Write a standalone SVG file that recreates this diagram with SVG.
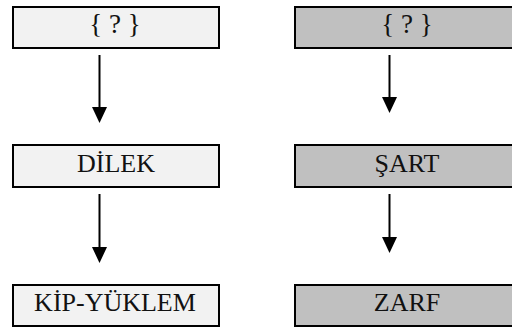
<svg xmlns="http://www.w3.org/2000/svg" width="512" height="329" viewBox="0 0 512 329">
  <defs>
    <marker id="ah" viewBox="0 0 16 15" refX="0" refY="7.5" markerWidth="16" markerHeight="15" markerUnits="userSpaceOnUse" orient="auto">
      <path d="M0,0 L16,7.5 L0,15 Z" fill="#000"/>
    </marker>
  </defs>
  <style>
    .box { stroke: #000; stroke-width: 2; }
    .light { fill: #f2f2f2; }
    .dark { fill: #c0c0c0; }
    text { font-family: "Liberation Serif", "Times New Roman", serif; font-size: 26px; fill: #111; text-anchor: middle; }
    .q { font-size: 27px; }
    .conn line { stroke: #000; stroke-width: 2; marker-end: url(#ah); }
  </style>
  <rect width="512" height="329" fill="#fff"/>
  <g id="node-q-left">
    <rect class="box light" x="13" y="7" width="206" height="41"/>
    <text class="q" x="115" y="33">{ ? }</text>
  </g>
  <g id="node-dilek">
    <rect class="box light" x="13" y="145" width="206" height="42"/>
    <text x="116" y="172">DİLEK</text>
  </g>
  <g id="node-kip">
    <rect class="box light" x="13" y="285" width="206" height="41"/>
    <text x="115" y="311">KİP-YÜKLEM</text>
  </g>
  <g id="node-q-right">
    <rect class="box dark" x="295" y="7" width="224" height="41"/>
    <text class="q" x="407" y="33">{ ? }</text>
  </g>
  <g id="node-sart">
    <rect class="box dark" x="295" y="145" width="224" height="42"/>
    <text x="407" y="172">ŞART</text>
  </g>
  <g id="node-zarf">
    <rect class="box dark" x="295" y="285" width="224" height="41"/>
    <text x="407" y="311">ZARF</text>
  </g>
  <g id="connectors" class="conn">
    <line x1="99.5" y1="55" x2="99.5" y2="107"/>
    <line x1="99.5" y1="194" x2="99.5" y2="247"/>
    <line x1="389.5" y1="55" x2="389.5" y2="97"/>
    <line x1="389.5" y1="194" x2="389.5" y2="237"/>
  </g>
</svg>
